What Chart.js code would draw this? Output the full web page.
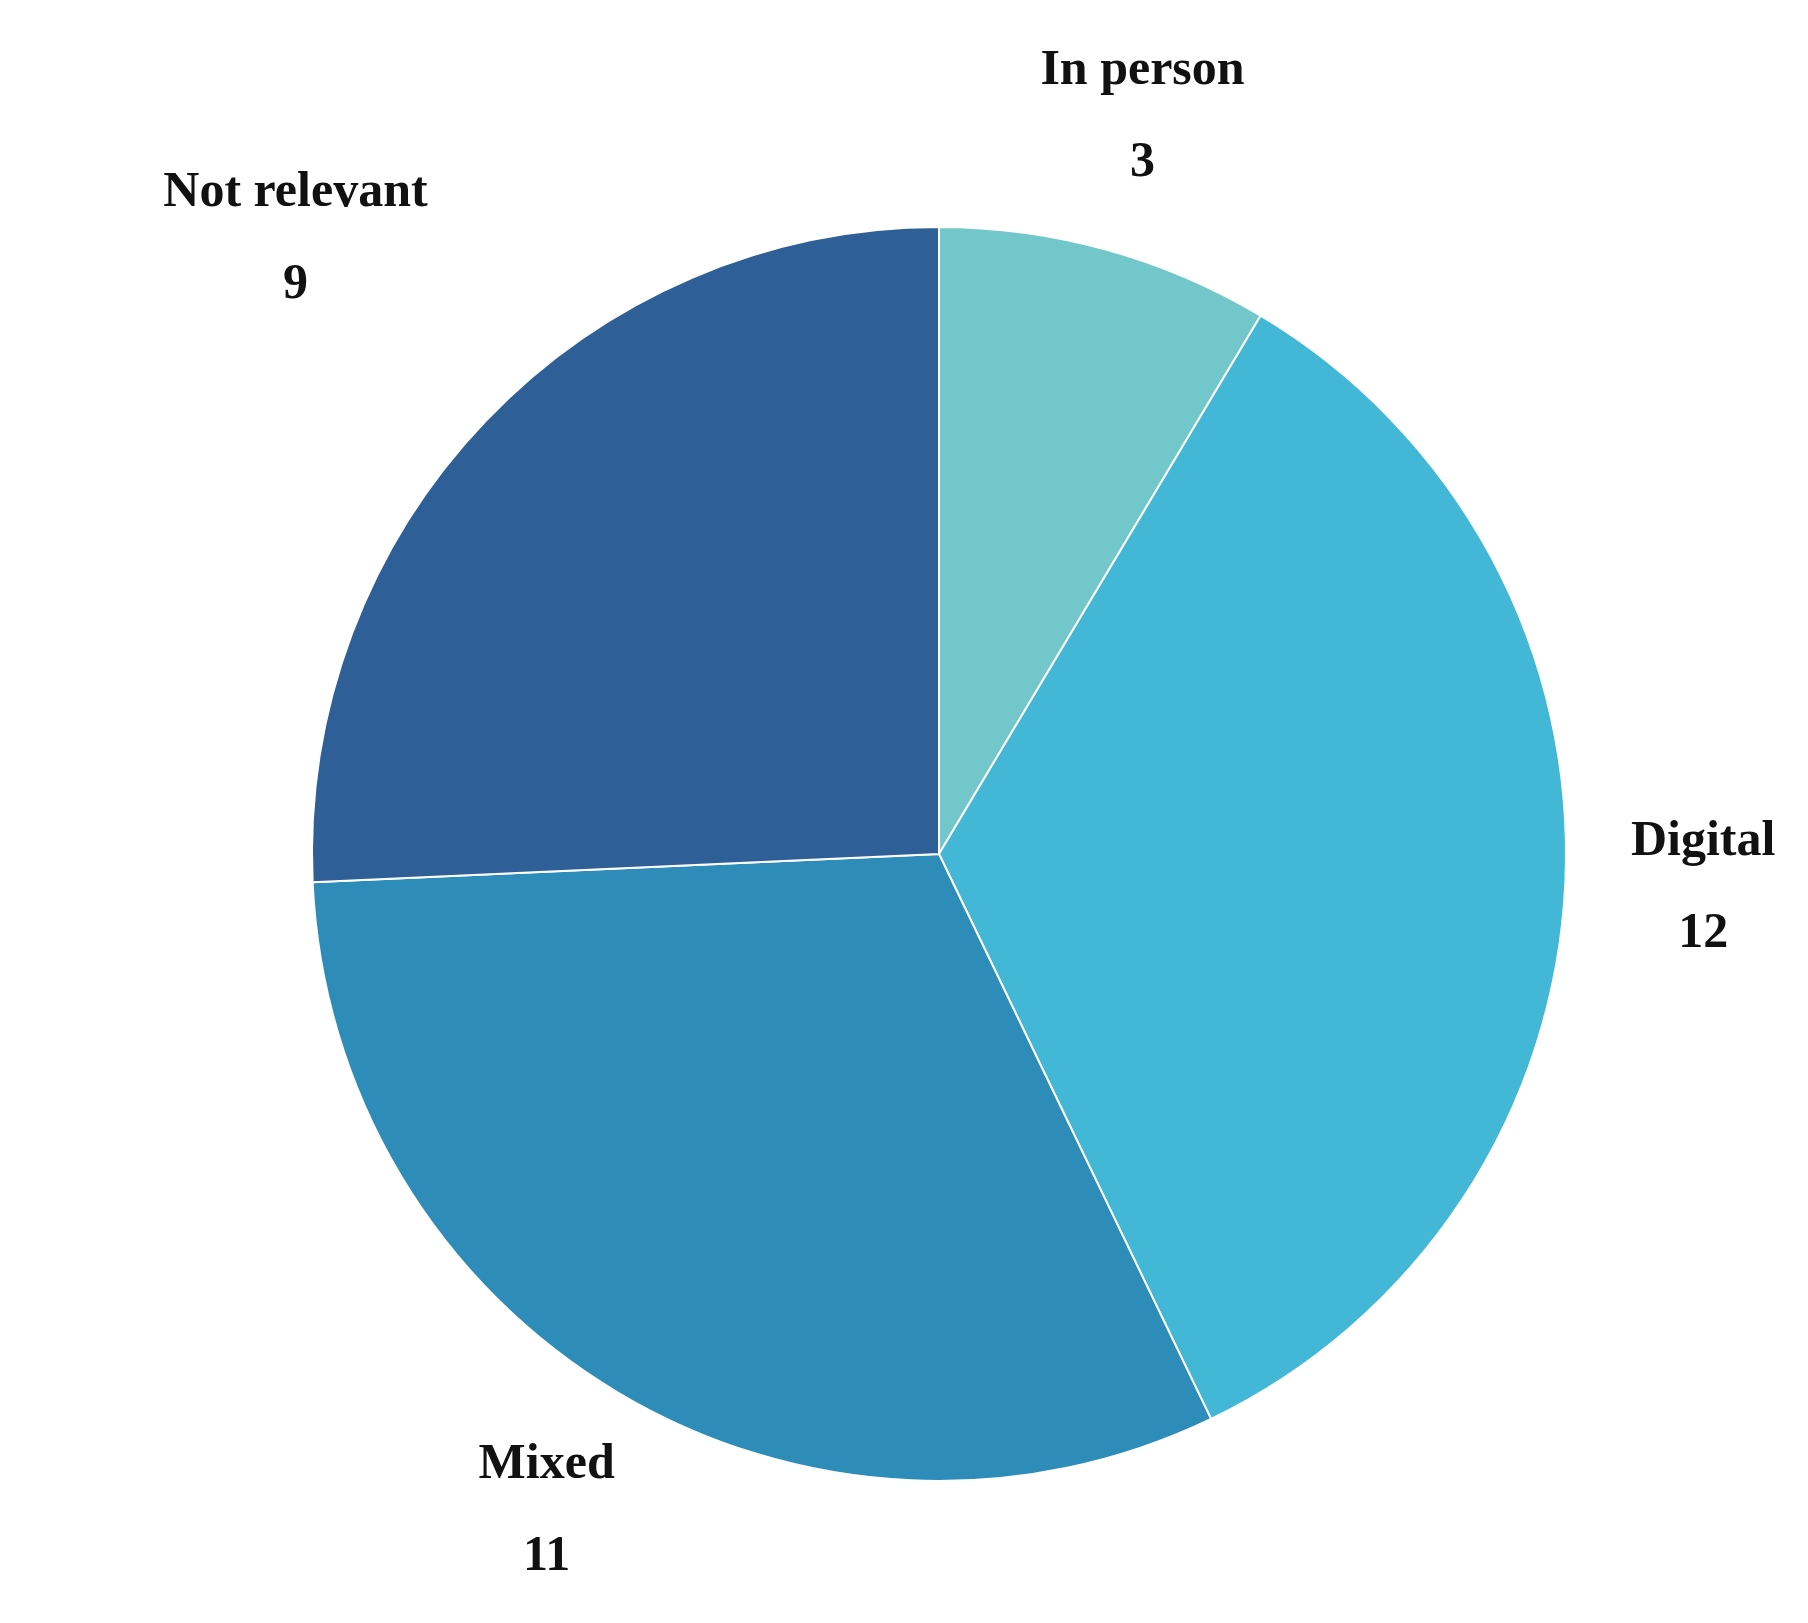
<!DOCTYPE html>
<html>
<head>
<meta charset="utf-8">
<script src="https://cdn.jsdelivr.net/npm/chart.js@4/dist/chart.umd.min.js"></script>
<style>
  body { margin: 0; background: #fff; }
</style>
</head>
<body>
<canvas id="myChart" width="1808" height="1623"></canvas>
<script>
const categories = ['In person', 'Digital', 'Mixed', 'Not relevant'];
const counts = [3, 12, 11, 9];
const colours = ['#71C7CA', '#42B7D6', '#2E8CB9', '#2F5F97'];

// labels outside each slice: name then value
const outsideLabels = {
    id: 'outsideLabels',
    afterDatasetsDraw(chart) {
        const ctx = chart.ctx;
        const meta = chart.getDatasetMeta(0);
        ctx.save();
        ctx.fillStyle = '#111';
        ctx.font = 'bold 50px "Liberation Serif", serif';
        ctx.textAlign = 'center';
        ctx.textBaseline = 'middle';
        meta.data.forEach((arc, i) => {
            const p = arc.getProps(['x', 'y', 'startAngle', 'endAngle', 'outerRadius'], true);
            const mid = (p.startAngle + p.endAngle) / 2;
            const d = p.outerRadius * (i === 3 ? 1.42 : 1.22);
            const x = p.x + Math.cos(mid) * d;
            const y = p.y + Math.sin(mid) * d;
            ctx.fillText(categories[i], x, y - 46);
            ctx.fillText(String(counts[i]), x, y + 46);
        });
        ctx.restore();
    }
};

new Chart(document.getElementById('myChart'), {
    type: 'pie',
    data: {
        labels: categories,
        datasets: [{
            data: counts,
            backgroundColor: colours,
            borderColor: '#fff',
            borderWidth: 2
        }]
    },
    options: {
        responsive: false,
        animation: false,
        layout: { padding: { left: 311, right: 241, top: 226, bottom: 141 } },
        plugins: {
            legend: { display: false },
            tooltip: { enabled: false }
        }
    },
    plugins: [outsideLabels]
});
</script>
</body>
</html>
